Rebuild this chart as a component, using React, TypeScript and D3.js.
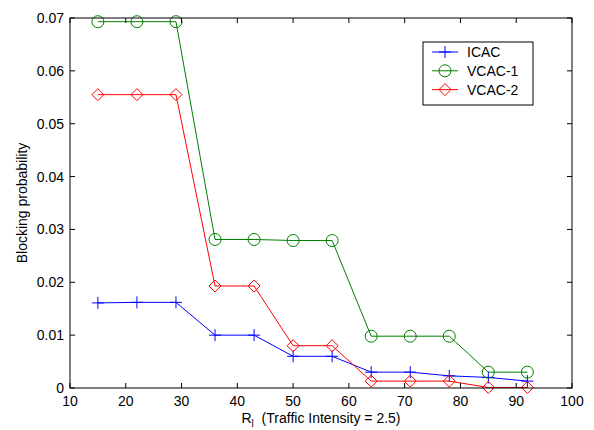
import React from "react";
import * as d3 from "d3";

const xValues = [15, 22, 29, 36, 43, 50, 57, 64, 71, 78, 85, 92];
const icac = [0.0161, 0.0162, 0.0162, 0.0100, 0.0100, 0.0060, 0.0060, 0.0030, 0.0030, 0.0023, 0.0020, 0.0013];
const vcac1 = [0.0693, 0.0693, 0.0693, 0.0281, 0.0281, 0.0279, 0.0279, 0.0098, 0.0098, 0.0098, 0.0030, 0.0030];
const vcac2 = [0.0555, 0.0555, 0.0555, 0.0193, 0.0193, 0.0080, 0.0080, 0.0013, 0.0013, 0.0013, 0.0001, 0.0001];
const xTicks = [10, 20, 30, 40, 50, 60, 70, 80, 90, 100];
const yTicks = [0, 0.01, 0.02, 0.03, 0.04, 0.05, 0.06, 0.07];
const seriesNames = ["ICAC", "VCAC-1", "VCAC-2"];

const W = 594;
const H = 430;
const M = { left: 70, right: 22, top: 18, bottom: 42 };
const FONT = "Arial, 'Liberation Sans', sans-serif";

type Kind = "plus" | "circle" | "diamond";

function Marker({ kind, x, y, color }: { kind: Kind; x: number; y: number; color: string }) {
  const s = 6;
  if (kind === "plus") {
    return (
      <path
        d={`M${x - s},${y}H${x + s}M${x},${y - s}V${y + s}`}
        stroke={color}
        strokeWidth={1}
        fill="none"
      />
    );
  }
  if (kind === "circle") {
    return <circle cx={x} cy={y} r={s} stroke={color} strokeWidth={1} fill="none" />;
  }
  return (
    <path
      d={`M${x},${y - s}L${x + s},${y}L${x},${y + s}L${x - s},${y}Z`}
      stroke={color}
      strokeWidth={1}
      fill="none"
    />
  );
}

export default function App() {
  const x = d3.scaleLinear().domain([10, 100]).range([M.left, W - M.right]);
  const y = d3.scaleLinear().domain([0, 0.07]).range([H - M.bottom, M.top]);
  const line = d3
    .line<number>()
    .x((_, i) => x(xValues[i]))
    .y((d) => y(d));

  const series: { name: string; values: number[]; color: string; kind: Kind }[] = [
    { name: seriesNames[0], values: icac, color: "#0000ff", kind: "plus" },
    { name: seriesNames[1], values: vcac1, color: "#008000", kind: "circle" },
    { name: seriesNames[2], values: vcac2, color: "#ff0000", kind: "diamond" },
  ];

  const x0 = M.left;
  const x1 = W - M.right;
  const y0 = H - M.bottom;
  const y1 = M.top;
  const tick = 5;

  const legend = { x: 423, y: 42, w: 110, h: 63 };

  return (
    <svg width={W} height={H} style={{ position: "absolute", left: 0, top: 0 }} fontFamily={FONT}>
      <rect x={0} y={0} width={W} height={H} fill="#fff" />

      {/* data lines and markers */}
      {series.map((s) => (
        <g key={s.name}>
          <path d={line(s.values) || ""} stroke={s.color} strokeWidth={1} fill="none" />
          {s.values.map((v, i) => (
            <Marker key={i} kind={s.kind} x={x(xValues[i])} y={y(v)} color={s.color} />
          ))}
        </g>
      ))}

      {/* axes box with inward ticks */}
      <rect x={x0} y={y1} width={x1 - x0} height={y0 - y1} fill="none" stroke="#000" strokeWidth={1} />
      {xTicks.map((t) => (
        <g key={`xt${t}`}>
          <line x1={x(t)} x2={x(t)} y1={y0} y2={y0 - tick} stroke="#000" />
          <line x1={x(t)} x2={x(t)} y1={y1} y2={y1 + tick} stroke="#000" />
          <text x={x(t)} y={y0 + 18} fontSize={14} textAnchor="middle" fill="#000">
            {t}
          </text>
        </g>
      ))}
      {yTicks.map((t) => (
        <g key={`yt${t}`}>
          <line x1={x0} x2={x0 + tick} y1={y(t)} y2={y(t)} stroke="#000" />
          <line x1={x1} x2={x1 - tick} y1={y(t)} y2={y(t)} stroke="#000" />
          <text x={x0 - 6} y={y(t) + 5} fontSize={14} textAnchor="end" fill="#000">
            {t === 0 ? "0" : t.toFixed(2)}
          </text>
        </g>
      ))}

      {/* axis titles */}
      <text x={(x0 + x1) / 2} y={H - 7} fontSize={14} textAnchor="middle" fill="#000">
        <tspan>R</tspan>
        <tspan fontSize={10} dy={4}>l</tspan>
        <tspan dy={-4}>{"\u00a0\u00a0(Traffic Intensity = 2.5)"}</tspan>
      </text>
      <text
        transform={`translate(27,${(y0 + y1) / 2}) rotate(-90)`}
        fontSize={14}
        textAnchor="middle"
        fill="#000"
      >
        Blocking probability
      </text>

      {/* legend */}
      <rect x={legend.x} y={legend.y} width={legend.w} height={legend.h} fill="#fff" stroke="#000" strokeWidth={1} />
      {series.map((s, i) => {
        const ly = 52 + i * 18.8;
        return (
          <g key={`lg${s.name}`}>
            <line x1={432} x2={458} y1={ly} y2={ly} stroke={s.color} strokeWidth={1} />
            <Marker kind={s.kind} x={445} y={ly} color={s.color} />
            <text x={467} y={ly + 5} fontSize={14} fill="#000">
              {s.name}
            </text>
          </g>
        );
      })}
    </svg>
  );
}
